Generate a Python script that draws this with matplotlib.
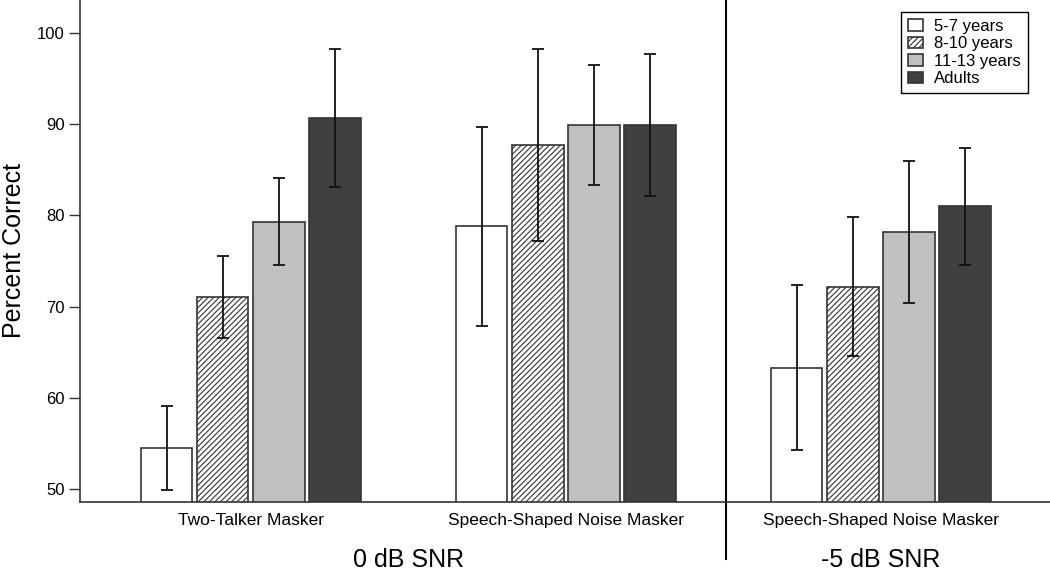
import numpy as np
import matplotlib.pyplot as plt

plt.rcParams['font.family'] = ['Liberation Sans', 'DejaVu Sans']
plt.rcParams['hatch.linewidth'] = 0.8
plt.rcParams['hatch.color'] = '#222222'

# data
conditions = ['Two-Talker Masker', 'Speech-Shaped Noise Masker', 'Speech-Shaped Noise Masker']
groups = ['5-7 years', '8-10 years', '11-13 years', 'Adults']
means = {
    '5-7 years':   [54.5, 78.8, 63.3],
    '8-10 years':  [71.1, 87.7, 72.2],
    '11-13 years': [79.3, 89.9, 78.2],
    'Adults':      [90.7, 89.9, 81.0],
}
errs = {
    '5-7 years':   [4.65, 10.9, 9.05],
    '8-10 years':  [4.5, 10.5, 7.6],
    '11-13 years': [4.75, 6.55, 7.8],
    'Adults':      [7.6, 7.8, 6.4],
}
snr_labels = ['0 dB SNR', '-5 dB SNR']

fills = ['white', 'white', '#c0c0c0', '#404040']
hatches = [None, '//////', None, None]

fig = plt.figure(figsize=(10.5, 5.72), dpi=100)
ax = fig.add_axes([80/1050, 70/572, 970/1050, 502/572])

x = np.arange(len(conditions))
pitch = 0.178
width = 0.1635
for i, g in enumerate(groups):
    pos = x + (i - 1.5) * pitch
    ax.bar(pos, means[g], width, color=fills[i], hatch=hatches[i],
           edgecolor='#333333', linewidth=1.2, label=g, zorder=2)
    ax.errorbar(pos, means[g], yerr=errs[g], fmt='none', ecolor='#111111',
                elinewidth=1.3, capsize=4, capthick=1.3, zorder=3)

ax.set_xlim(-0.542, 2.537)
ax.set_ylim(48.57, 103.62)
ax.set_yticks([50, 60, 70, 80, 90, 100])
ax.set_xticks(x)
ax.set_xticklabels(conditions, fontsize=12.5)
ax.tick_params(axis='x', length=0, pad=8)
ax.tick_params(axis='y', length=8, width=1, color='#333333', labelsize=12, pad=3)
ax.set_ylabel('Percent Correct', fontsize=18, labelpad=8)

for s in ['top', 'right']:
    ax.spines[s].set_visible(False)
for s in ['left', 'bottom']:
    ax.spines[s].set_color('#333333')
    ax.spines[s].set_linewidth(1.2)

# divider between SNR conditions
ax.axvline(1.51, ymin=-0.114, ymax=1, color='black', linewidth=1.5, clip_on=False)

ax.text(0.5, -0.115, snr_labels[0], transform=ax.get_xaxis_transform(),
        ha='center', va='center', fontsize=18)
ax.text(2.0, -0.115, snr_labels[1], transform=ax.get_xaxis_transform(),
        ha='center', va='center', fontsize=18)

leg = ax.legend(loc='upper right', bbox_to_anchor=(0.977, 0.976), borderaxespad=0,
                fontsize=12, handlelength=0.9, handleheight=0.7, handletextpad=0.7,
                labelspacing=0.15, borderpad=0.4, fancybox=False, framealpha=1,
                edgecolor='black')
leg.get_frame().set_linewidth(1.0)

fig.savefig('out.png', dpi=100)
